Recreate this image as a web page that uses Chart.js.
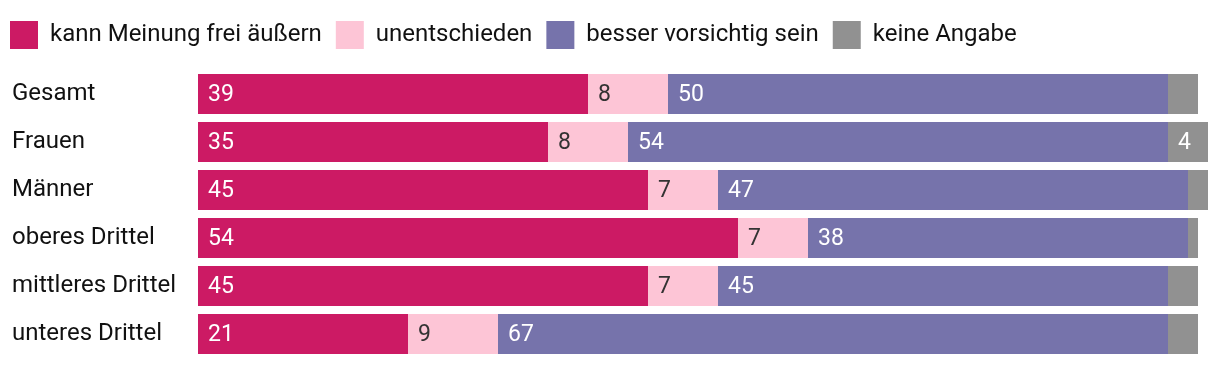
<!DOCTYPE html>
<html>
<head>
<meta charset="utf-8">
<script src="https://cdn.jsdelivr.net/npm/chart.js@4"></script>
<style>
  html, body { margin: 0; padding: 0; background: #fff; }
  #wrap { width: 1220px; height: 366px; }
</style>
</head>
<body>
<div id="wrap"><canvas id="meinungChart"></canvas></div>
<script>
const labels = ["Gesamt", "Frauen", "Männer", "oberes Drittel", "mittleres Drittel", "unteres Drittel"];
const frei = [39, 35, 45, 54, 45, 21];
const unentschieden = [8, 8, 7, 7, 7, 9];
const vorsichtig = [50, 54, 47, 38, 45, 67];
const keineAngabe = [3, 4, 2, 1, 3, 3];

const FONT = "Roboto, 'Liberation Sans', sans-serif";

// Zahlen in die Balken schreiben (links im Segment)
const barValues = {
  id: 'barValues',
  afterDatasetsDraw(chart) {
    const ctx = chart.ctx;
    ctx.save();
    ctx.font = "23px " + FONT;
    ctx.textBaseline = 'middle';
    ctx.textAlign = 'left';
    chart.data.datasets.forEach((ds, i) => {
      chart.getDatasetMeta(i).data.forEach((bar, j) => {
        const v = ds.data[j];
        if (v < 4) return;
        const left = Math.min(bar.x, bar.base);
        ctx.fillStyle = ds.labelColor;
        ctx.fillText(v, left + 10, bar.y + 1);
      });
    });
    ctx.restore();
  }
};

// Legende: feste Höhe, bündig links
const legendFix = {
  id: 'legendFix',
  beforeInit(chart) {
    const fit = chart.legend.fit;
    chart.legend.fit = function () {
      fit.bind(chart.legend)();
      this.height = 70;
    };
  },
  afterLayout(chart) {
    chart.legend.left = -4;
    chart.legend.top = 7;
  }
};

const ctx = document.getElementById('meinungChart').getContext('2d');
const meinungChart = new Chart(ctx, {
  type: 'bar',
  data: {
    labels: labels,
    datasets: [
      { label: 'kann Meinung frei äußern', data: frei, backgroundColor: '#cc1a64', labelColor: '#ffffff' },
      { label: 'unentschieden', data: unentschieden, backgroundColor: '#fdc5d6', labelColor: '#333333' },
      { label: 'besser vorsichtig sein', data: vorsichtig, backgroundColor: '#7673ab', labelColor: '#ffffff' },
      { label: 'keine Angabe', data: keineAngabe, backgroundColor: '#919191', labelColor: '#ffffff' }
    ]
  },
  options: {
    indexAxis: 'y',
    responsive: true,
    maintainAspectRatio: false,
    animation: false,
    datasets: {
      bar: { categoryPercentage: 1, barPercentage: 40 / 48, borderWidth: 0 }
    },
    layout: { padding: { left: 12, right: 12, top: 0, bottom: 8 } },
    scales: {
      x: {
        stacked: true,
        min: 0,
        max: 101,
        display: false
      },
      y: {
        stacked: true,
        grid: { display: false },
        border: { display: false },
        ticks: {
          crossAlign: 'far',
          color: '#111',
          font: { family: FONT, size: 24 }
        },
        afterFit(scale) {
          scale.width = 186;
          scale.paddingTop = 0;
          scale.paddingBottom = 0;
        }
      }
    },
    plugins: {
      tooltip: { enabled: false },
      legend: {
        position: 'top',
        align: 'start',
        labels: {
          boxWidth: 28,
          boxHeight: 28,
          padding: 14,
          color: '#111',
          font: { family: FONT, size: 24 }
        }
      }
    }
  },
  plugins: [barValues, legendFix]
});
</script>
</body>
</html>
